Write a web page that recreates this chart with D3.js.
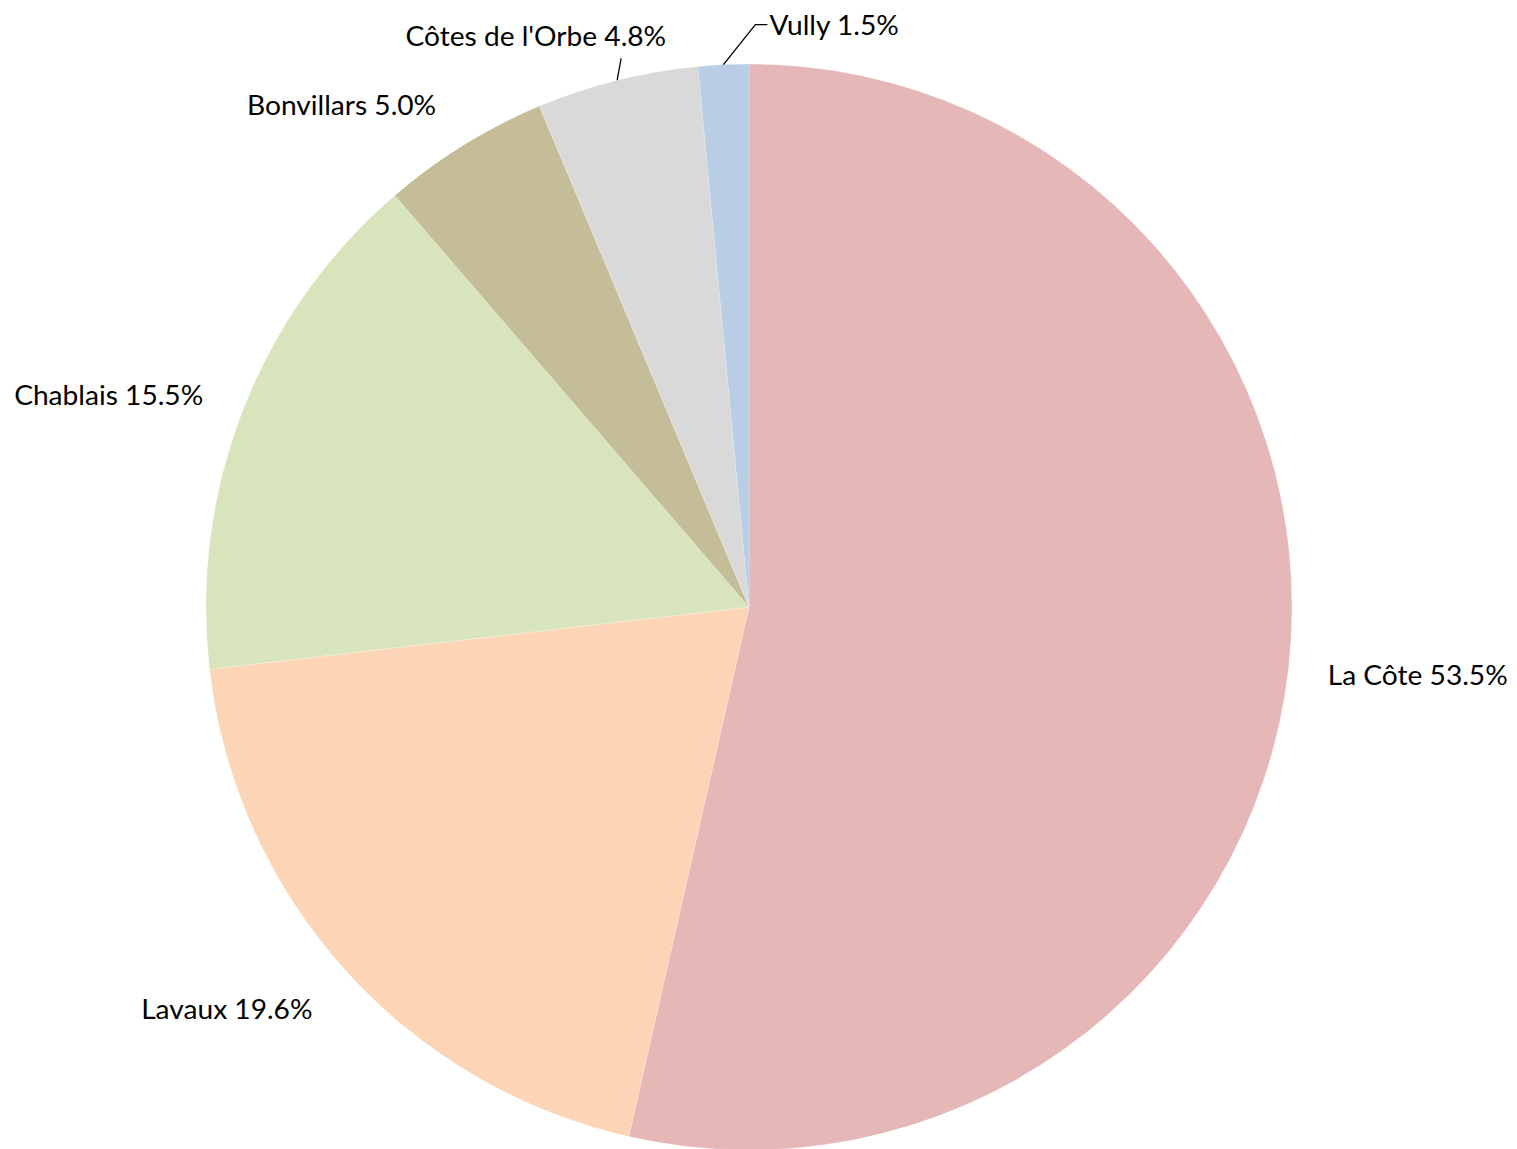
<!DOCTYPE html>
<html>
<head>
<meta charset="utf-8">
<script src="https://cdn.jsdelivr.net/npm/d3@7"></script>
<style>
  html, body { margin: 0; padding: 0; background: #fff; }
  svg text { font-family: Lato, "Open Sans", sans-serif; fill: #000; }
</style>
</head>
<body>
<div id="chart"></div>
<script>
// data
const categories = ["La Côte", "Lavaux", "Chablais", "Bonvillars", "Côtes de l'Orbe", "Vully"];
const shares = [53.5, 19.6, 15.5, 5.0, 4.8, 1.5];
const colors = ["#e5b8b7", "#fbd5b5", "#d8e4bc", "#c4bd97", "#d9d9d9", "#b9cde5"];

const width = 1517, height = 1149;
const cx = 749, cy = 607, radius = 543;

// label layout: nudge of the box placed outside the pie, or a leader line (offsets from the arc edge)
const labelLayout = {
  "La Côte": { nudge: [-10, 0] },
  "Lavaux": { nudge: [-17, -4] },
  "Chablais": { nudge: [0, 10] },
  "Bonvillars": { nudge: [-46, 16] },
  "Côtes de l'Orbe": { leader: [[0, 0], [4, -22]], text: [49, -44], anchor: "end" },
  "Vully": { leader: [[0, 0], [32, -40], [44, -40]], text: [46, -40], anchor: "start" }
};
const labelGap = 50;

const svg = d3.select("#chart").append("svg")
  .attr("width", width)
  .attr("height", height);

const g = svg.append("g").attr("transform", `translate(${cx},${cy})`);

const pie = d3.pie().sort(null).value(d => d.v);
const arcs = pie(categories.map((c, i) => ({ name: c, v: shares[i], color: colors[i] })));

const arc = d3.arc().innerRadius(0).outerRadius(radius);

g.selectAll("path.slice")
  .data(arcs)
  .join("path")
  .attr("class", "slice")
  .attr("d", arc)
  .attr("fill", d => d.data.color)
  .attr("stroke", "#fff")
  .attr("stroke-opacity", 0.35)
  .attr("stroke-width", 0.6);

// labels
const fontSize = 26;
const labels = g.selectAll("g.label")
  .data(arcs)
  .join("g")
  .attr("class", "label");

const txt = labels.append("text")
  .attr("font-size", fontSize)
  .attr("dominant-baseline", "central")
  .text(d => `${d.data.name} ${d.data.v.toFixed(1)}%`);

// squeeze glyphs a little so "La Côte 53.5%" is about 180px wide (Calibri-like)
const w0 = txt.filter(d => d.index === 0).node().getComputedTextLength();
const squeeze = 180 / w0;
txt.each(function () {
  const w = this.getComputedTextLength();
  d3.select(this)
    .attr("textLength", w * squeeze)
    .attr("lengthAdjust", "spacingAndGlyphs");
});

labels.each(function (d) {
  const sel = d3.select(this);
  const t = sel.select("text");
  const mid = (d.startAngle + d.endAngle) / 2;
  const sx = Math.sin(mid), sy = -Math.cos(mid);
  const lay = labelLayout[d.data.name];
  if (lay.leader) {
    const ex = radius * sx, ey = radius * sy;
    const pts = lay.leader.map(p => [ex + p[0], ey + p[1]]);
    sel.append("path")
      .attr("d", d3.line()(pts))
      .attr("fill", "none")
      .attr("stroke", "#000")
      .attr("stroke-width", 1.3);
    t.attr("x", ex + lay.text[0])
      .attr("y", ey + lay.text[1])
      .attr("text-anchor", lay.anchor);
  } else {
    const w = +t.attr("textLength");
    const h = fontSize * 1.2;
    const px = (radius + labelGap) * sx, py = (radius + labelGap) * sy;
    t.attr("x", px + sx * w / 2 + lay.nudge[0])
      .attr("y", py + sy * h / 2 + lay.nudge[1])
      .attr("text-anchor", "middle");
  }
});
</script>
</body>
</html>
